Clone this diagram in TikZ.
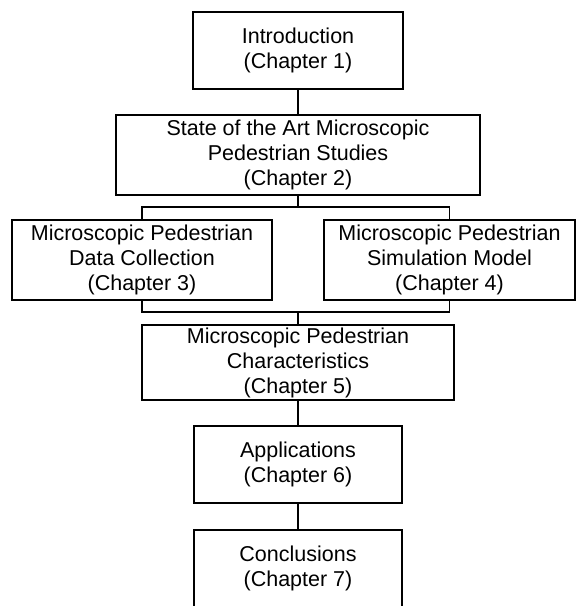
\documentclass[tikz,border=0pt]{standalone}
\usepackage{fontspec}
\setmainfont{Liberation Sans}
\usepackage{tikz}
\newcommand{\chapfont}{\fontsize{21.5}{25}\selectfont}

\begin{document}
\begin{tikzpicture}[x=1pt, y=-1pt, line width=1.8pt,
  box/.style={draw, rectangle, inner sep=0pt, align=center, font=\chapfont}]
\useasboundingbox (0,0) rectangle (577,606);
\node[box, minimum width=210pt, minimum height=77pt] (intro) at (298,50.5) {Introduction\\(Chapter 1)};
\node[box, minimum width=364pt, minimum height=80pt] (sota) at (298,155) {State of the Art Microscopic\\Pedestrian Studies\\(Chapter 2)};
\node[box, minimum width=260pt, minimum height=80pt] (datacoll) at (142,260) {Microscopic Pedestrian\\Data Collection\\(Chapter 3)};
\node[box, minimum width=251pt, minimum height=80pt] (simmodel) at (449.5,260) {Microscopic Pedestrian\\Simulation Model\\(Chapter 4)};
\node[box, minimum width=312pt, minimum height=75pt] (charac) at (298,362.5) {Microscopic Pedestrian\\Characteristics\\(Chapter 5)};
\node[box, minimum width=208pt, minimum height=77pt] (applic) at (298,464.5) {Applications\\(Chapter 6)};
\node[box, minimum width=208pt, minimum height=77pt] (concl) at (298,568.5) {Conclusions\\(Chapter 7)};
\coordinate (split) at (298,207);
\coordinate (merge) at (298,312);
\draw (intro) -- (sota);
\draw (sota) -- (split);
\draw (datacoll.north) |- (split) -| (simmodel.north);
\draw (datacoll.south) |- (merge) -| (simmodel.south);
\draw (merge) -- (charac);
\draw (charac) -- (applic);
\draw (applic) -- (concl);
\end{tikzpicture}
\end{document}
